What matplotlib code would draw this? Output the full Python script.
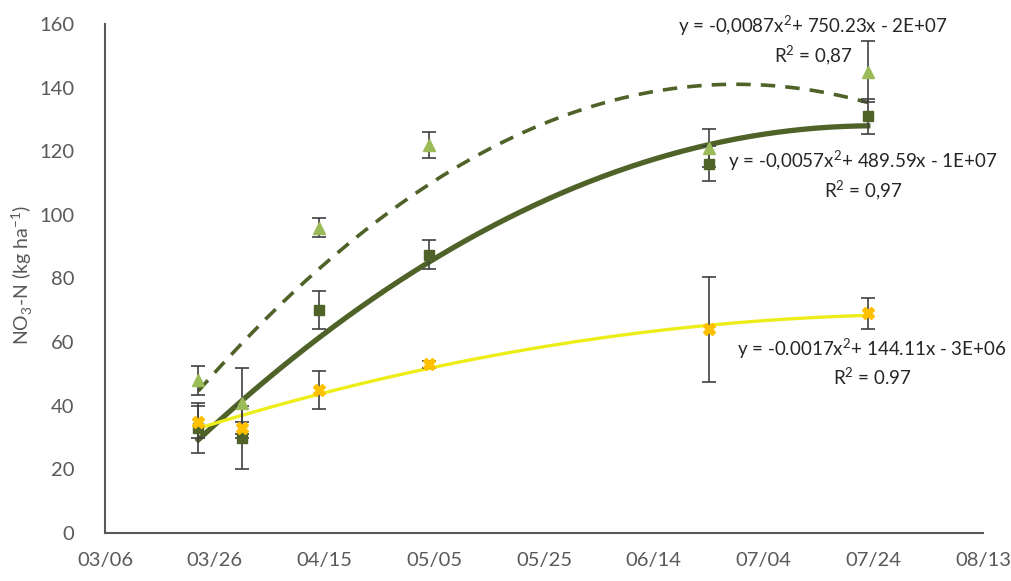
import datetime as dt

import matplotlib.dates as mdates
import matplotlib.pyplot as plt
import numpy as np

# Sampling dates
sample_dates = ["2018-03-23", "2018-03-31", "2018-04-14", "2018-05-04", "2018-06-24", "2018-07-23"]

# NO3-N (kg/ha) per treatment, with standard deviations
dark_vals = [33, 30, 70, 87.5, 116, 131]
dark_err = [8, 10, 6, 4.5, 5.5, 5.5]
light_vals = [48, 41, 96, 122, 121, 145]
light_err = [4.5, 11, 3, 4, 6, 9.5]
orange_vals = [35, 33, 45, 53, 64, 69]
orange_err = [5, 2, 6, 1, 16.5, 5]

eq_light = "y = -0,0087x$^{2}$+ 750.23x - 2E+07\nR$^{2}$ = 0,87"
eq_dark = "y = -0,0057x$^{2}$+ 489.59x - 1E+07\nR$^{2}$ = 0,97"
eq_orange = "y = -0.0017x$^{2}$+ 144.11x - 3E+06\nR$^{2}$ = 0.97"

plt.rcParams["font.family"] = ["Lato", "DejaVu Sans"]
plt.rcParams["mathtext.fontset"] = "custom"
plt.rcParams["mathtext.rm"] = "Lato"

dates = [dt.datetime.strptime(d, "%Y-%m-%d") for d in sample_dates]
x = mdates.date2num(dates)
xx = np.linspace(x.min(), x.max(), 200)

fig = plt.figure(figsize=(10.11, 5.81), dpi=100)
ax = fig.add_axes([105 / 1011, 48 / 581, 878 / 1011, 509 / 581])

DARK = "#4F6228"
LIGHT = "#9BBB59"
YELLOW = "#EDED1A"
ORANGE = "#FFC000"
ERR = "#404040"
TXT = "#595959"

# quadratic trend lines fitted to each series
for vals, color, ls, lw in [
    (light_vals, DARK, (0, (4, 2.8)), 2.6),
    (dark_vals, DARK, "-", 3.8),
    (orange_vals, YELLOW, "-", 2.4),
]:
    coef = np.polyfit(x, vals, 2)
    ax.plot(xx, np.polyval(coef, xx), color=color, linestyle=ls, linewidth=lw, zorder=2)

ekw = dict(ecolor=ERR, elinewidth=1.2, capsize=5, capthick=1.2, linestyle="none", zorder=3)
ax.errorbar(x, dark_vals, yerr=dark_err, marker="s", markersize=7, color=DARK, **ekw)
ax.errorbar(x, light_vals, yerr=light_err, marker="^", markersize=8, color=LIGHT, **ekw)
ax.errorbar(x, orange_vals, yerr=orange_err, marker="X", markersize=9, color=ORANGE, **ekw)

start = dt.datetime(2018, 3, 6)
ticks = [start + dt.timedelta(days=20 * i) for i in range(9)]
ax.set_xlim(mdates.date2num(ticks[0]), mdates.date2num(ticks[-1]))
ax.set_xticks(mdates.date2num(ticks))
ax.xaxis.set_major_formatter(mdates.DateFormatter("%m/%d"))
ax.set_ylim(0, 160)
ax.set_yticks(range(0, 161, 20))

for side in ["top", "right"]:
    ax.spines[side].set_visible(False)
for side in ["left", "bottom"]:
    ax.spines[side].set_color("#595959")
    ax.spines[side].set_linewidth(1.5)
ax.tick_params(length=0, labelsize=14.5, colors=TXT)
ax.tick_params(axis="x", pad=14)
ax.tick_params(axis="y", pad=22)

fig.text(22 / 1011, 1 - 275 / 581, "NO$_{3}$-N (kg ha$^{-1}$)", rotation=90,
         fontsize=14, color=TXT, ha="center", va="center")

tkw = dict(fontsize=13.5, color="#262626", ha="center", va="center", linespacing=1.3, transform=fig.transFigure)
fig.text(813 / 1011, 1 - 41 / 581, eq_light, **tkw)
fig.text(863 / 1011, 1 - 176 / 581, eq_dark, **tkw)
fig.text(872 / 1011, 1 - 362 / 581, eq_orange, **tkw)

fig.savefig("out.png", dpi=100)
